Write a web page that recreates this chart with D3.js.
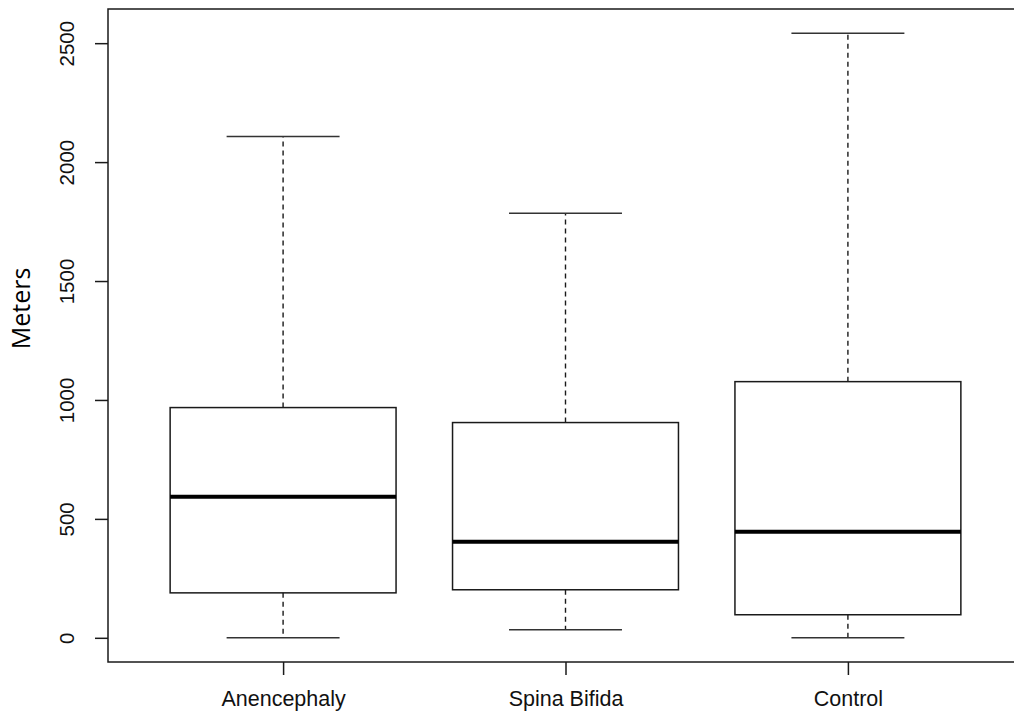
<!DOCTYPE html>
<html>
<head>
<meta charset="utf-8">
<script src="https://cdn.jsdelivr.net/npm/d3@7"></script>
<style>
  html, body { margin: 0; padding: 0; background: #fff; }
  svg { display: block; }
</style>
</head>
<body>
<svg id="chart" width="1014" height="711"></svg>
<script>
const categories = ["Anencephaly", "Spina Bifida", "Control"];
const whiskerLow  = [0, 34, 0];
const boxLow      = [189, 202, 97];
const medians     = [593, 404, 446];
const boxHigh     = [968, 905, 1077];
const whiskerHigh = [2108, 1785, 2542];
const yTicks = [0, 500, 1000, 1500, 2000, 2500];
const yTitle = "Meters";

(function () {
const svg = d3.select("#chart");
const mLeft = 108, mRight = 1023, mTop = 9, mBottom = 662;

const x = d3.scaleLinear().domain([0.38, categories.length + 0.62]).range([mLeft, mRight]);
const yMax = d3.max(whiskerHigh), yMin = d3.min(whiskerLow);
const pad = (yMax - yMin) * 0.04;
const y = d3.scaleLinear().domain([yMin - pad, yMax + pad]).range([mBottom, mTop]);

const stroke = "#1a1a1a";

// frame
svg.append("rect")
  .attr("x", mLeft).attr("y", mTop)
  .attr("width", mRight - mLeft).attr("height", mBottom - mTop)
  .attr("fill", "none").attr("stroke", stroke).attr("stroke-width", 1.5);

const data = categories.map((c, i) => ({
  c, i: i + 1, lo: whiskerLow[i], q1: boxLow[i], med: medians[i], q3: boxHigh[i], hi: whiskerHigh[i]
}));

const g = svg.append("g");
const boxW = 0.4, capW = 0.2;

data.forEach(d => {
  const cx = x(d.i);
  g.append("line").attr("x1", cx).attr("x2", cx).attr("y1", y(d.q3)).attr("y2", y(d.hi))
    .attr("stroke", stroke).attr("stroke-width", 1.4).attr("stroke-dasharray", "5,4");
  g.append("line").attr("x1", cx).attr("x2", cx).attr("y1", y(d.q1)).attr("y2", y(d.lo))
    .attr("stroke", stroke).attr("stroke-width", 1.4).attr("stroke-dasharray", "5,4");
  [d.hi, d.lo].forEach(v => {
    g.append("line").attr("x1", x(d.i - capW)).attr("x2", x(d.i + capW))
      .attr("y1", y(v)).attr("y2", y(v))
      .attr("stroke", "#333").attr("stroke-width", 1.5);
  });
  g.append("rect").attr("x", x(d.i - boxW)).attr("y", y(d.q3))
    .attr("width", x(d.i + boxW) - x(d.i - boxW)).attr("height", y(d.q1) - y(d.q3))
    .attr("fill", "none").attr("stroke", stroke).attr("stroke-width", 1.5);
  g.append("line").attr("x1", x(d.i - boxW)).attr("x2", x(d.i + boxW))
    .attr("y1", y(d.med)).attr("y2", y(d.med))
    .attr("stroke", "#000").attr("stroke-width", 4);
});

// y axis
const yAxis = svg.append("g").attr("transform", `translate(${mLeft},0)`)
  .call(d3.axisLeft(y).tickValues(yTicks).tickSize(13).tickFormat(d3.format("d")));
yAxis.select(".domain").remove();
yAxis.selectAll(".tick line").attr("stroke", stroke).attr("stroke-width", 1.5);
yAxis.selectAll(".tick text")
  .attr("x", 0).attr("y", 0).attr("dy", 0)
  .attr("transform", "translate(-42,0) rotate(-90)")
  .attr("text-anchor", "middle")
  .attr("dominant-baseline", "central")
  .attr("font-family", "Liberation Sans, Arial, sans-serif")
  .attr("font-size", 20.5).attr("fill", "#111");

// x axis
const xAxis = svg.append("g").attr("transform", `translate(0,${mBottom})`)
  .call(d3.axisBottom(x).tickValues(data.map(d => d.i)).tickSize(13)
    .tickFormat(v => categories[v - 1]));
xAxis.select(".domain").remove();
xAxis.selectAll(".tick line").attr("stroke", stroke).attr("stroke-width", 1.5);
xAxis.selectAll(".tick text")
  .attr("y", 44).attr("dy", 0)
  .attr("font-family", "Liberation Sans, Arial, sans-serif")
  .attr("font-size", 21.5).attr("fill", "#111");

// y title
svg.append("text")
  .attr("transform", `translate(30,${(mTop + mBottom) / 2 - 27}) rotate(-90)`)
  .attr("text-anchor", "middle")
  .attr("font-family", "Open Sans, Noto Sans, sans-serif")
  .attr("font-size", 25).attr("fill", "#000")
  .text(yTitle);
})();
</script>
</body>
</html>
